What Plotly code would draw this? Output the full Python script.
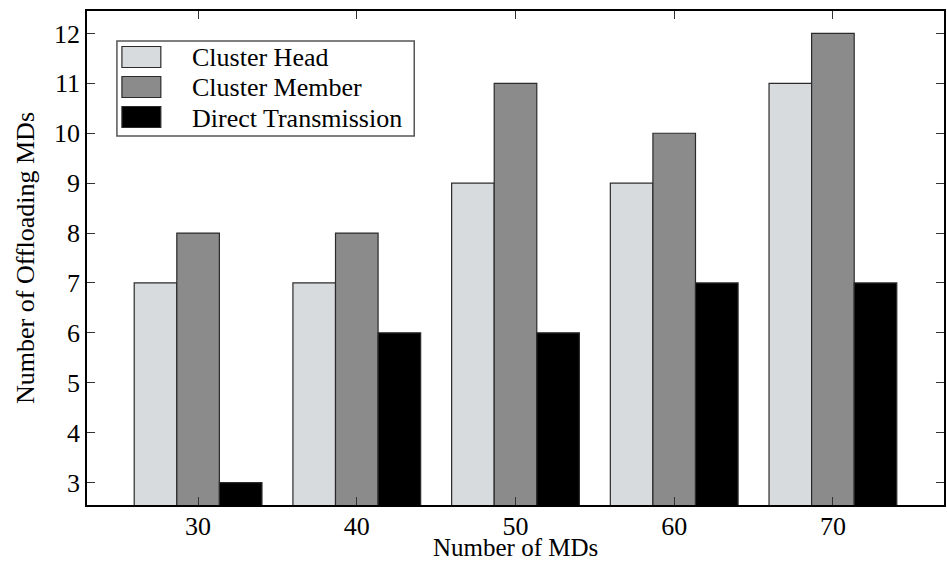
import plotly.graph_objects as go

# Data
md_counts = ["30", "40", "50", "60", "70"]
series_names = ["Cluster Head", "Cluster Member", "Direct Transmission"]
cluster_head = [7, 7, 9, 9, 11]
cluster_member = [8, 8, 11, 10, 12]
direct_tx = [3, 6, 6, 7, 7]
y_ticks = [3, 4, 5, 6, 7, 8, 9, 10, 11, 12]

colors = ["#d8dbde", "#8b8b8c", "#000000"]
edge = "#2b2b2b"
FONT = "Liberation Serif, Times New Roman, serif"

W, H = 947, 564
ML, MR, MT, MB = 87, 1, 11, 59
PW, PH = W - ML - MR, H - MT - MB

fig = go.Figure()
for name, vals, col in zip(series_names, [cluster_head, cluster_member, direct_tx], colors):
    fig.add_trace(go.Bar(
        x=md_counts, y=vals, name=name, showlegend=False,
        marker=dict(color=col, line=dict(color=edge, width=1.2)),
    ))


def px_x(px):
    return (px - ML) / PW


def px_y(py):
    return (H - MB - py) / PH


# Hand-drawn legend with large swatches
shapes = [dict(type="rect", xref="paper", yref="paper",
               x0=px_x(117), x1=px_x(415), y0=px_y(136), y1=px_y(41),
               line=dict(color="#555555", width=1.5), fillcolor="white", layer="above")]
annotations = []
row_centers = [57, 87, 117]
for name, col, cy in zip(series_names, colors, row_centers):
    shapes.append(dict(type="rect", xref="paper", yref="paper",
                       x0=px_x(122), x1=px_x(161), y0=px_y(cy + 10.5), y1=px_y(cy - 10.5),
                       line=dict(color=edge, width=1.2), fillcolor=col, layer="above"))
    annotations.append(dict(xref="paper", yref="paper", x=px_x(190), y=px_y(cy + 1),
                            text=name, showarrow=False, xanchor="left", yanchor="middle",
                            font=dict(family=FONT, size=26, color="black")))

# x-axis title placed just under the tick labels
annotations.append(dict(xref="paper", yref="paper", x=0.5, y=px_y(563),
                        text="Number of MDs", showarrow=False,
                        xanchor="center", yanchor="bottom",
                        font=dict(family=FONT, size=25, color="black")))

fig.update_layout(
    width=W, height=H,
    margin=dict(l=ML, r=MR, t=MT, b=MB),
    paper_bgcolor="white", plot_bgcolor="white",
    barmode="group", bargap=0.195, bargroupgap=0,
    font=dict(family=FONT, size=26, color="black"),
    shapes=shapes, annotations=annotations,
    xaxis=dict(
        type="category", range=[-0.7, 4.7],
        showline=True, linecolor="black", linewidth=1.5, mirror="ticks",
        ticks="inside", ticklen=8, tickcolor="#333333", tickwidth=1.2,
        showgrid=False, zeroline=False, ticklabelstandoff=-3,
        tickfont=dict(size=26),
    ),
    yaxis=dict(
        range=[2.55, 12.45], tickvals=y_ticks,
        showline=True, linecolor="black", linewidth=1.5, mirror="ticks",
        ticks="inside", ticklen=8, tickcolor="#333333", tickwidth=1.2,
        showgrid=False, zeroline=False,
        title=dict(text="Number of Offloading MDs", standoff=12, font=dict(size=26)),
        tickfont=dict(size=26),
    ),
)

fig.write_html("out.html")
